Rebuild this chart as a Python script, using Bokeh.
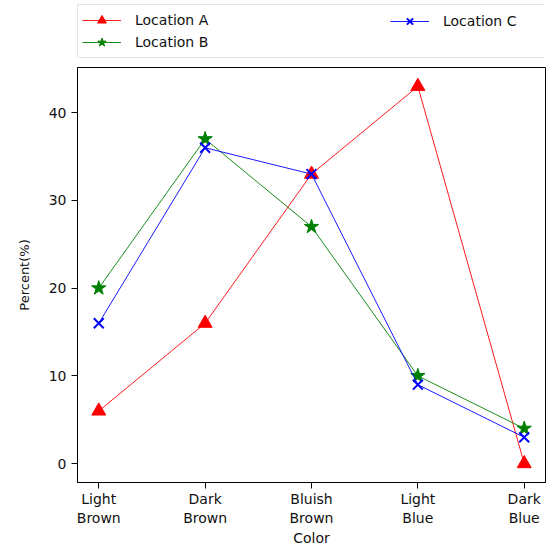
from bokeh.plotting import figure
from bokeh.models import Legend, LegendItem, FixedTicker, Range1d
from bokeh.layouts import column
from bokeh.embed import file_html
from bokeh.resources import INLINE

categories = ["Light\nBrown", "Dark\nBrown", "Bluish\nBrown", "Light\nBlue", "Dark\nBlue"]
loc_a = [6, 16, 33, 43, 0]
loc_b = [20, 37, 27, 10, 4]
loc_c = [16, 36, 33, 9, 3]
y_ticks = [0, 10, 20, 30, 40]
x = list(range(len(categories)))

W, H = 546, 548
LEG_H = 60
FONT = "DejaVu Sans"
ML, MR = 77, 1

styles = [
    dict(color="red", marker="triangle", size=14, lw=2),
    dict(color="green", marker="star", size=15, lw=1),
    dict(color="blue", marker="x", size=14, lw=2),
]
series = [loc_a, loc_b, loc_c]
names = ["Location A", "Location B", "Location C"]


def draw(fig):
    out = []
    for ys, st in zip(series, styles):
        ln = fig.line(x, ys, line_color=st["color"], line_width=0.9)
        if st["marker"] == "x":
            mk = fig.scatter(x, ys, marker="x", size=st["size"], line_color=st["color"],
                             line_width=st["lw"])
        else:
            mk = fig.scatter(x, ys, marker=st["marker"], size=st["size"],
                             fill_color=st["color"], line_color=st["color"])
        out.append([ln, mk])
    return out


# main chart
p = figure(width=W, height=H - LEG_H, output_backend="svg", toolbar_location=None,
           x_range=Range1d(-0.2, len(categories) - 0.8), y_range=Range1d(-2.15, 45.15),
           min_border_left=ML, min_border_right=MR, min_border_top=7, min_border_bottom=40)
p.grid.visible = False
p.outline_line_color = "black"
p.outline_line_width = 1
draw(p)

p.xaxis.ticker = FixedTicker(ticks=x)
p.xaxis.major_label_overrides = {i: c for i, c in zip(x, categories)}
p.yaxis.ticker = FixedTicker(ticks=y_ticks)
p.xaxis.axis_label = "Color"
p.yaxis.axis_label = "Percent(%)"
for ax in (p.xaxis, p.yaxis):
    ax.axis_line_color = "black"
    ax.major_tick_line_color = "black"
    ax.major_tick_out = 6
    ax.major_tick_in = 0
    ax.minor_tick_line_color = None
    ax.major_label_text_font = FONT
    ax.major_label_text_font_size = "14px"
    ax.major_label_text_color = "#111111"
    ax.axis_label_text_font = FONT
    ax.axis_label_text_font_size = "14px"
    ax.axis_label_text_font_style = "normal"
    ax.axis_label_text_color = "#111111"
p.yaxis.axis_label_text_font_size = "13px"
p.xaxis.major_label_standoff = 2
p.xaxis.axis_label_standoff = 1
p.yaxis.major_label_standoff = 5
p.yaxis.axis_label_standoff = 14

# legend strip above the chart
lg = figure(width=W, height=LEG_H, output_backend="svg", toolbar_location=None,
            x_axis_type=None, y_axis_type=None,
            x_range=Range1d(-0.2, len(categories) - 0.8), y_range=Range1d(1000, 1001),
            min_border_left=0, min_border_right=0, min_border_top=0, min_border_bottom=0)
lg.grid.visible = False
lg.outline_line_color = None
rends = draw(lg)

pad, gw, gh, stand, sp = 4, 39, 22, 14, 0
box_w = W - MR - ML
box_bottom = 2

common = dict(margin=0, padding=pad, glyph_width=gw, glyph_height=gh, label_height=gh,
              label_standoff=stand, label_text_font=FONT, label_text_font_size="14px",
              label_text_color="#111111", spacing=sp)
leg1 = Legend(items=[LegendItem(label=names[0], renderers=rends[0]),
                     LegendItem(label=names[1], renderers=rends[1])],
              location=(0, box_bottom),
              label_width=box_w - 2 * pad - gw - stand,
              border_line_color="#cccccc", border_line_width=1,
              background_fill_color="white", background_fill_alpha=1.0, **common)
leg2 = Legend(items=[LegendItem(label=names[2], renderers=rends[2])],
              location=(309, box_bottom + gh + sp),
              border_line_alpha=0, background_fill_alpha=0, **common)
lg.add_layout(leg1, "center")
lg.add_layout(leg2, "center")

layout = column(lg, p, spacing=0)
open("out.html", "w").write(file_html(layout, INLINE))
